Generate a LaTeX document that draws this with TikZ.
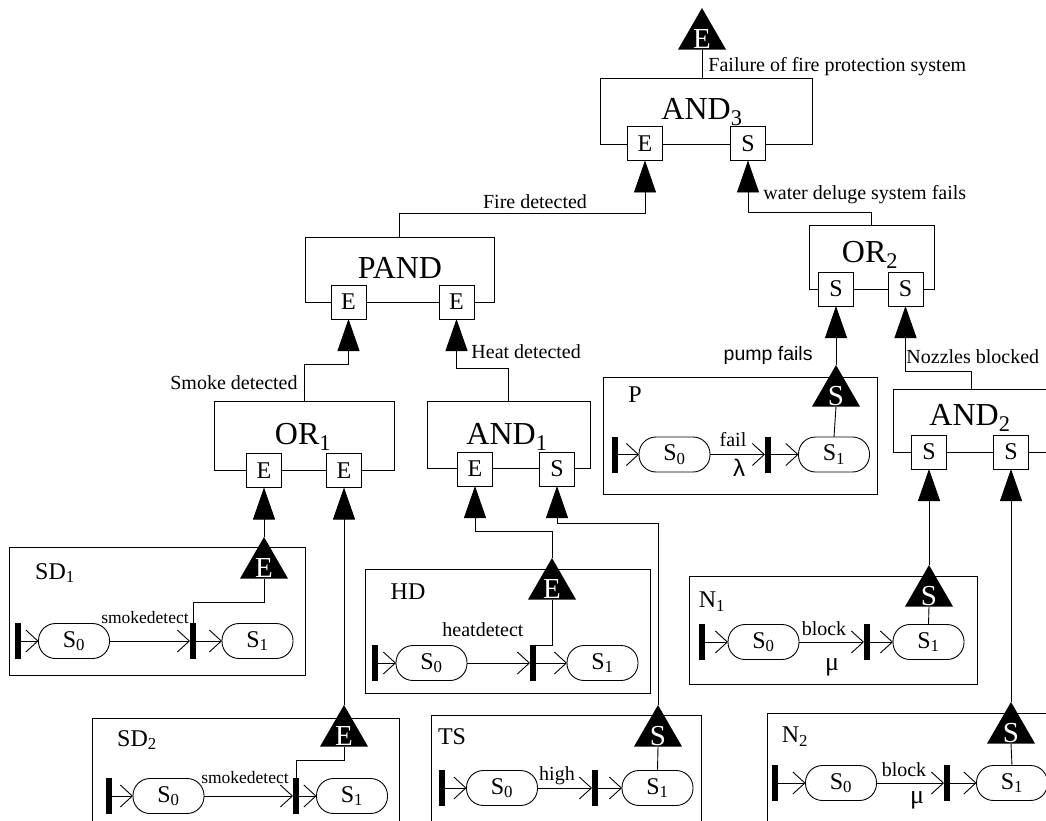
\documentclass[tikz,border=0pt]{standalone}
\usepackage{fontspec}
\setmainfont{Liberation Serif}
\newfontfamily\sansfam{Liberation Sans}
\usetikzlibrary{arrows.meta,shapes.geometric}

\newcommand\fs[1]{\fontsize{#1}{#1}\selectfont}

\begin{document}
\begin{tikzpicture}[x=1pt,y=-1pt, line width=0.9pt,
  gatebox/.style={draw, inner sep=0pt, outer sep=0pt},
  gatelabel/.style={inner sep=0pt, font=\fs{32}},
  portbox/.style={draw, fill=white, minimum width=35pt, minimum height=34pt, inner sep=0pt, outer sep=0pt, font=\fs{24}},
  modbox/.style={draw, inner sep=0pt, outer sep=0pt},
  modlabel/.style={inner sep=0pt, font=\fs{24}},
  evtri/.style={regular polygon, regular polygon sides=3, fill=black, draw=none, minimum size=55.4pt, inner sep=0pt, outer sep=0pt},
  trilabel/.style={text=white, inner sep=0pt, anchor=base, yshift=1pt, font=\fs{29}},
  stnode/.style={draw, rounded corners=17pt, minimum width=71pt, minimum height=35pt, inner sep=0pt, outer sep=0pt, font=\fs{24}},
  barnode/.style={fill=black, minimum width=6pt, minimum height=36pt, inner sep=0pt, outer sep=0pt},
  trans/.style={-{Straight Barb[length=12pt,width=22pt]}},
  feed/.style={-{Triangle[length=32pt,width=22pt]}},
  edgelabel/.style={inner sep=0pt, font=\fs{20}},
  smalllabel/.style={inner sep=0pt, font=\fs{17.5}},
  greeklabel/.style={inner sep=0pt, font=\fs{26}},
]
\clip (0,0) rectangle (1046,821);
\fill[white] (0,0) rectangle (1046,821);

% ---------- top event ----------
\node[evtri] (top) at (702,35.7) {};
\node[trilabel] (toplbl) at (top.side 2) {E};

% ---------- AND3 ----------
\node[gatebox, minimum width=212pt, minimum height=66pt] (and3) at (706,111) {};
\node[gatelabel] (and3lbl) at (702,112) {AND\textsubscript{3}};
\node[portbox] (and3e) at (645,143.5) {E};
\node[portbox] (and3s) at (748,143.5) {S};
\draw (top.side 2) -- (top.side 2 |- and3.north);
\node[edgelabel, anchor=west] (failtxt) at (708,67) {Failure of fire protection system};

% ---------- PAND ----------
\node[gatebox, minimum width=189pt, minimum height=65pt] (pand) at (399.5,269.5) {};
\node[gatelabel] (pandlbl) at (400,268) {PAND};
\node[portbox] (pande1) at (348.5,302) {E};
\node[portbox] (pande2) at (456.5,302) {E};
\draw[feed] (pand.north) -- ++(0,-24) -| (and3e.south);
\node[edgelabel] (firetxt) at (535,202) {Fire detected};

% ---------- OR2 ----------
\node[gatebox, minimum width=125pt, minimum height=64pt] (or2) at (871.5,257) {};
\node[gatelabel] (or2lbl) at (870,255) {OR\textsubscript{2}};
\node[portbox] (or2s1) at (836,289) {S};
\node[portbox] (or2s2) at (905.5,289) {S};
\draw[feed] (or2.north) -- ++(0,-13) -| (and3s.south);
\node[edgelabel, anchor=west] (watertxt) at (763,195) {water deluge system fails};

% ---------- OR1 ----------
\node[gatebox, minimum width=180pt, minimum height=69pt] (or1) at (304,435.5) {};
\node[gatelabel] (or1lbl) at (303,437) {OR\textsubscript{1}};
\node[portbox] (or1e1) at (264,470.5) {E};
\node[portbox] (or1e2) at (344,470.5) {E};
\draw[feed] (or1.north) -- ++(0,-37) -| (pande1.south);
\node[edgelabel, anchor=east] (smoketxt) at (298,383) {Smoke detected};

% ---------- AND1 ----------
\node[gatebox, minimum width=163pt, minimum height=67pt] (and1) at (508.5,434.5) {};
\node[gatelabel] (and1lbl) at (507,437) {AND\textsubscript{1}};
\node[portbox] (and1e) at (475,469) {E};
\node[portbox] (and1s) at (557,469) {S};
\draw[feed] (and1.north) -- ++(0,-33) -| (pande2.south);
\node[edgelabel, anchor=west] (heattxt) at (471,352) {Heat detected};

% ---------- AND2 ----------
\node[gatebox, minimum width=156pt, minimum height=63pt] (and2) at (971,420.5) {};
\node[gatelabel] (and2lbl) at (970,418) {AND\textsubscript{2}};
\node[portbox] (and2s1) at (929,452) {S};
\node[portbox] (and2s2) at (1011,452) {S};
\draw[feed] (and2.north) -- ++(0,-18) -| (or2s2.south);
\node[edgelabel, anchor=west] (nozztxt) at (906,357) {Nozzles blocked};

% ---------- pump P ----------
\node[modbox, minimum width=274pt, minimum height=117pt] (pmod) at (740,435.5) {};
\node[modlabel] (plbl) at (635,395) {P};
\node[evtri] (pS) at (836,392.7) {};
\node[trilabel] (pSlbl) at (pS.side 2) {S};
\node[barnode] (pb0) at (615,454.5) {};
\node[stnode] (ps0) at (674.5,454.5) {S\textsubscript{0}};
\node[barnode] (pb1) at (768,454.5) {};
\node[stnode] (ps1) at (834,454.5) {S\textsubscript{1}};
\draw[trans] (pb0.east) -- (ps0.west);
\draw[trans] (ps0.east) -- (pb1.west);
\draw[trans] (pb1.east) -- (ps1.west);
\draw (pS.side 2) -- (ps1.north);
\draw[feed] (pS.corner 1) -- (or2s1.south);
\node[edgelabel] (pfail) at (733,440) {fail};
\node[greeklabel, font=\sansfam\fs{24}] (prate) at (739,468) {λ};
\node[inner sep=0pt, font=\sansfam\fs{19.5}, anchor=east] (pumptxt) at (813,355) {pump fails};

% ---------- nozzle N1 ----------
\node[modbox, minimum width=288pt, minimum height=108pt] (n1mod) at (833,630) {};
\node[modlabel] (n1lbl) at (712,602) {N\textsubscript{1}};
\node[evtri] (n1S) at (929,592.7) {};
\node[trilabel] (n1Slbl) at (n1S.side 2) {S};
\node[barnode] (n1b0) at (702,642) {};
\node[stnode] (n1s0) at (763.5,642) {S\textsubscript{0}};
\node[barnode] (n1b1) at (867,642) {};
\node[stnode] (n1s1) at (928.5,642) {S\textsubscript{1}};
\draw[trans] (n1b0.east) -- (n1s0.west);
\draw[trans] (n1s0.east) -- (n1b1.west);
\draw[trans] (n1b1.east) -- (n1s1.west);
\draw (n1S.side 2) -- (n1s1.north);
\draw[feed] (n1S.corner 1) -- (and2s1.south);
\node[edgelabel] (n1block) at (824,629) {block};
\node[greeklabel] (n1rate) at (832,667) {μ};

% ---------- nozzle N2 ----------
\node[modbox, minimum width=290pt, minimum height=120pt] (n2mod) at (912,773) {};
\node[modlabel] (n2lbl) at (795,737) {N\textsubscript{2}};
\node[evtri] (n2S) at (1011,729.7) {};
\node[trilabel] (n2Slbl) at (n2S.side 2) {S};
\node[barnode] (n2b0) at (775,783) {};
\node[stnode] (n2s0) at (841,783) {S\textsubscript{0}};
\node[barnode] (n2b1) at (947,783) {};
\node[stnode] (n2s1) at (1012,783) {S\textsubscript{1}};
\draw[trans] (n2b0.east) -- (n2s0.west);
\draw[trans] (n2s0.east) -- (n2b1.west);
\draw[trans] (n2b1.east) -- (n2s1.west);
\draw (n2S.side 2) -- (n2s1.north);
\draw[feed] (n2S.corner 1) -- (and2s2.south);
\node[edgelabel] (n2block) at (904,770) {block};
\node[greeklabel] (n2rate) at (917,800) {μ};

% ---------- smoke detector SD1 ----------
\node[modbox, minimum width=296pt, minimum height=128pt] (sd1mod) at (157,611) {};
\node[modlabel] (sd1lbl) at (55,573) {SD\textsubscript{1}};
\node[evtri] (sd1E) at (264,564.7) {};
\node[trilabel] (sd1Elbl) at (sd1E.side 2) {E};
\node[barnode] (sd1b0) at (18,641) {};
\node[stnode] (sd1s0) at (74,641) {S\textsubscript{0}};
\node[barnode] (sd1b1) at (193,641) {};
\node[stnode] (sd1s1) at (257.5,641) {S\textsubscript{1}};
\draw[trans] (sd1b0.east) -- (sd1s0.west);
\draw[trans] (sd1s0.east) -- (sd1b1.west);
\draw[trans] (sd1b1.east) -- (sd1s1.west);
\draw (sd1E.side 2) -- ++(0,24) -| (sd1b1.north);
\draw[feed] (sd1E.corner 1) -- (or1e1.south);
\node[smalllabel] (sd1ev) at (145,618) {smokedetect};

% ---------- smoke detector SD2 ----------
\node[modbox, minimum width=307pt, minimum height=120pt] (sd2mod) at (245.5,778) {};
\node[modlabel] (sd2lbl) at (137,740) {SD\textsubscript{2}};
\node[evtri] (sd2E) at (344,732.7) {};
\node[trilabel] (sd2Elbl) at (sd2E.side 2) {E};
\node[barnode] (sd2b0) at (109,796) {};
\node[stnode] (sd2s0) at (168.5,796) {S\textsubscript{0}};
\node[barnode] (sd2b1) at (296,796) {};
\node[stnode] (sd2s1) at (352,796) {S\textsubscript{1}};
\draw[trans] (sd2b0.east) -- (sd2s0.west);
\draw[trans] (sd2s0.east) -- (sd2b1.west);
\draw[trans] (sd2b1.east) -- (sd2s1.west);
\draw (sd2E.side 2) -- ++(0,14) -| (sd2b1.north);
\draw[feed] (sd2E.corner 1) -- (or1e2.south);
\node[smalllabel] (sd2ev) at (245,778) {smokedetect};

% ---------- heat detector HD ----------
\node[modbox, minimum width=285pt, minimum height=124pt] (hdmod) at (507.5,631) {};
\node[modlabel] (hdlbl) at (408,592) {HD};
\node[evtri] (hdE) at (552,585.7) {};
\node[trilabel] (hdElbl) at (hdE.side 2) {E};
\node[barnode] (hdb0) at (375,663) {};
\node[stnode] (hds0) at (431.5,663) {S\textsubscript{0}};
\node[barnode] (hdb1) at (533,663) {};
\node[stnode] (hds1) at (602.5,663) {S\textsubscript{1}};
\draw[trans] (hdb0.east) -- (hds0.west);
\draw[trans] (hds0.east) -- (hdb1.west);
\draw[trans] (hdb1.east) -- (hds1.west);
\draw (hdE.side 2) |- (hdb1.north);
\draw[feed] (hdE.corner 1) -- ++(0,-27) -| (and1e.south);
\node[edgelabel] (hdev) at (483,630) {heatdetect};

% ---------- temperature sensor TS ----------
\node[modbox, minimum width=270pt, minimum height=120pt] (tsmod) at (566,775) {};
\node[modlabel] (tslbl) at (452,737) {TS};
\node[evtri] (tsS) at (658,732.7) {};
\node[trilabel] (tsSlbl) at (tsS.side 2) {S};
\node[barnode] (tsb0) at (442,788) {};
\node[stnode] (tss0) at (502,788) {S\textsubscript{0}};
\node[barnode] (tsb1) at (595,788) {};
\node[stnode] (tss1) at (657.5,788) {S\textsubscript{1}};
\draw[trans] (tsb0.east) -- (tss0.west);
\draw[trans] (tss0.east) -- (tsb1.west);
\draw[trans] (tsb1.east) -- (tss1.west);
\draw (tsS.side 2) -- (tss1.north);
\draw[feed] (tsS.corner 1) -- ++(0,-182) -| (and1s.south);
\node[edgelabel] (tsev) at (557,776) {high};
\end{tikzpicture}
\end{document}
